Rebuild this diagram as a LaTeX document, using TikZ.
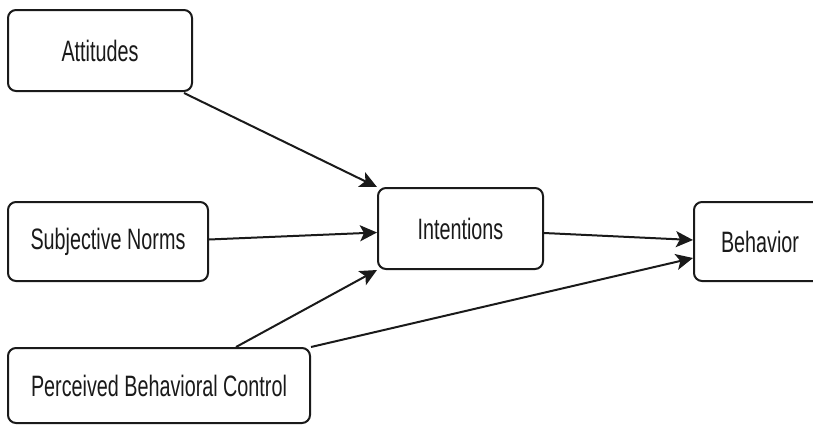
\documentclass[tikz,border=0pt]{standalone}
\usepackage{fontspec}
\setmainfont{Liberation Sans}
\usetikzlibrary{arrows.meta,calc}
\definecolor{ink}{HTML}{1A1A1A}
\tikzset{
  box/.style={draw=ink, line width=2pt, rounded corners=8pt, inner sep=0pt, fill=white,
    font=\fontsize{29.5}{29.5}\selectfont, text=ink},
  conn/.style={draw=ink, line width=2pt, -{Stealth[length=17pt,width=16pt,inset=4pt]}}
}
\newcommand{\cond}[1]{\scalebox{0.67}[1]{#1}}
\begin{document}
\begin{tikzpicture}[x=1pt,y=-1pt]
\path[use as bounding box, clip] (0,0) rectangle (813,426);
\node[box, minimum width=184pt, minimum height=81pt] (att) at (100,50.5) {\cond{Attitudes}};
\node[box, minimum width=200pt, minimum height=79pt] (sn) at (108,241.5) {\cond{Subjective Norms}};
\node[box, minimum width=302pt, minimum height=75pt] (pbc) at (159,385.5) {\cond{Perceived Behavioral Control}};
\node[box, minimum width=165pt, minimum height=81pt] (int) at (460.5,228.5) {\cond{Intentions}};
\node[box, minimum width=132pt, minimum height=79pt] (beh) at (760,241.5) {\cond{Behavior}};
\draw[conn] ($(att.south east)+(-9,1)$) -- (int.north west);
\draw[conn] ($(sn.east)+(0,-2)$) -- ($(int.west)+(0,4)$);
\draw[conn] ($(pbc.north)+(77,0)$) -- (int.south west);
\draw[conn] (pbc.north east) -- ($(beh.west)+(0,16.5)$);
\draw[conn] ($(int.east)+(0,4.5)$) -- ($(beh.west)+(0,-1.5)$);
\end{tikzpicture}
\end{document}
